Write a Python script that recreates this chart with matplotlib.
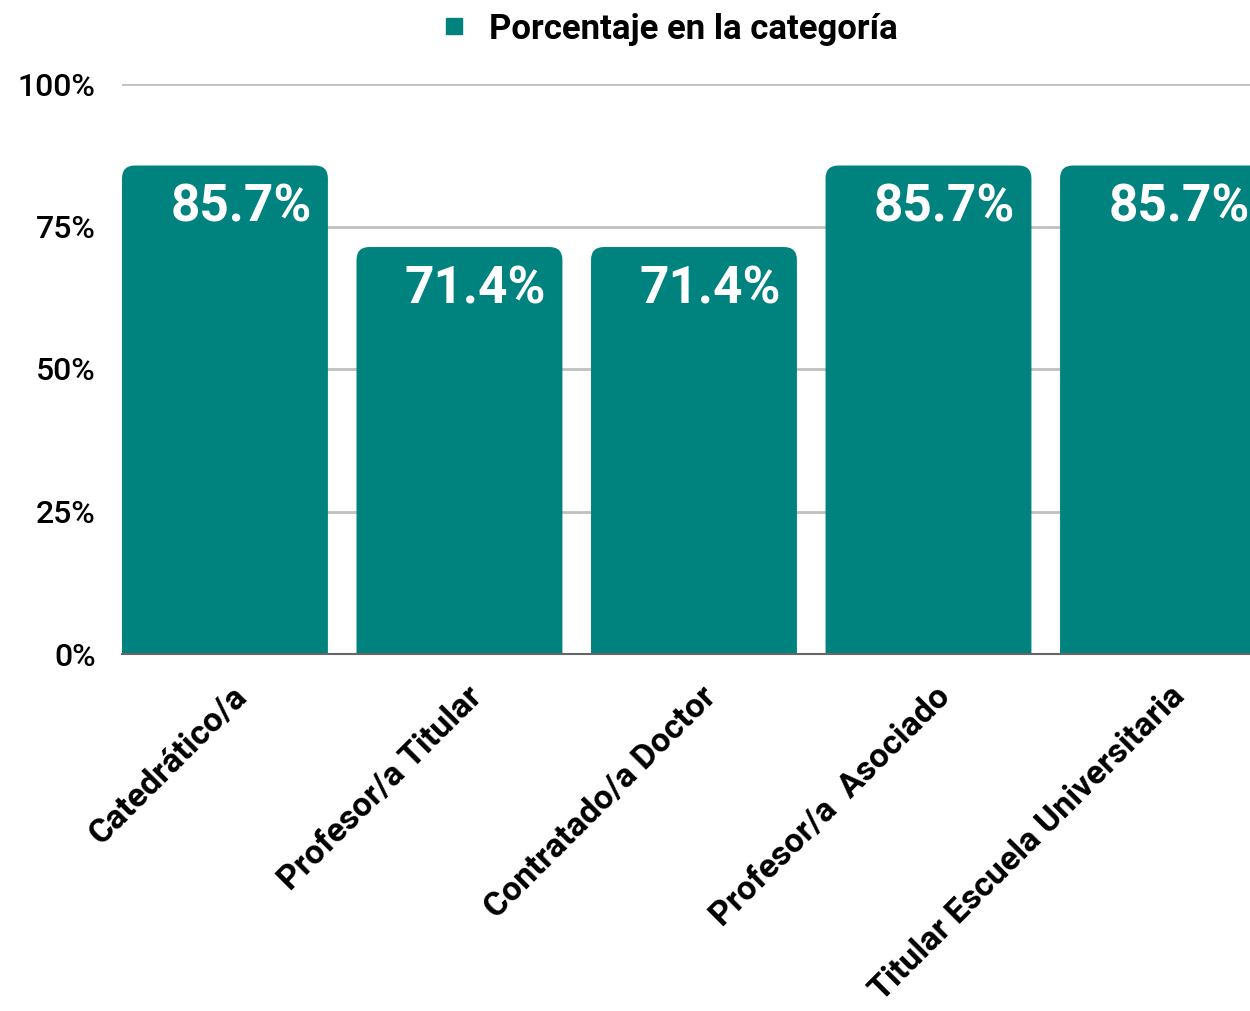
import numpy as np
import matplotlib
matplotlib.use("Agg")
import matplotlib.pyplot as plt
from matplotlib.patches import PathPatch
from matplotlib.path import Path
from matplotlib.lines import Line2D
import matplotlib.transforms as mtransforms

plt.rcParams['font.family'] = ['Roboto', 'DejaVu Sans']

# datos
categorias = ['Catedrático/a', 'Profesor/a Titular', 'Contratado/a Doctor',
              'Profesor/a  Asociado', 'Titular Escuela Universitaria']
porcentajes = [85.7, 71.4, 71.4, 85.7, 85.7]
etiquetas_y = ['0%', '25%', '50%', '75%', '100%']
serie = 'Porcentaje en la categoría'
color = '#00827f'

fig = plt.figure(figsize=(12.5, 10.11), dpi=100)
ax = fig.add_axes([122 / 1250, (1011 - 654) / 1011, 1 - 122 / 1250, 570 / 1011])

x = np.arange(len(categorias))
ancho = 0.878
barras = ax.bar(x, porcentajes, width=ancho, color=color, zorder=2)
ax.set_xlim(-0.439, 4.371)
ax.set_ylim(0, 100)


def barra_redondeada(x0, w, h, rx, ry):
    # solo las esquinas de arriba van redondeadas
    verts = [(x0, 0), (x0, h - ry), (x0, h), (x0 + rx, h),
             (x0 + w - rx, h), (x0 + w, h), (x0 + w, h - ry),
             (x0 + w, 0), (x0, 0)]
    codes = [Path.MOVETO, Path.LINETO, Path.CURVE3, Path.CURVE3,
             Path.LINETO, Path.CURVE3, Path.CURVE3,
             Path.LINETO, Path.CLOSEPOLY]
    return Path(verts, codes)


fig.canvas.draw()
px_x = ax.transData.transform((1, 0))[0] - ax.transData.transform((0, 0))[0]
px_y = ax.transData.transform((0, 1))[1] - ax.transData.transform((0, 0))[1]
rx, ry = 13 / px_x, 13 / px_y
for b in barras:
    b.set_visible(False)
    ax.add_patch(PathPatch(barra_redondeada(b.get_x(), b.get_width(), b.get_height(), rx, ry),
                           fc=color, ec='none', zorder=2))

# etiquetas de datos
for xi, v in zip(x, porcentajes):
    off = mtransforms.offset_copy(ax.transData, fig=fig, x=-16, y=-17, units='dots')
    ax.text(xi + ancho / 2, v, f'{v}%', transform=off, ha='right', va='top',
            color='white', fontsize=37, fontweight='bold', zorder=3, clip_on=False)

ax.set_yticks([0, 25, 50, 75, 100])
ax.set_yticklabels(etiquetas_y, fontsize=23, fontweight='medium')
ax.yaxis.grid(True, color='#c0c0c0', linewidth=2, zorder=0)
ax.tick_params(axis='y', length=0, pad=19)
ax.tick_params(axis='x', length=0, pad=19)
ax.set_xticks(x)
ax.set_xticklabels(categorias, rotation=45, ha='right', rotation_mode='anchor',
                   fontsize=24.5, fontweight='semibold')
desplaz = mtransforms.ScaledTranslation(6 / 100, 0, fig.dpi_scale_trans)
for t in ax.get_xticklabels():
    t.set_transform(t.get_transform() + desplaz)

for s in ['top', 'right', 'left']:
    ax.spines[s].set_visible(False)
ax.spines['bottom'].set_color('#666666')
ax.spines['bottom'].set_linewidth(1.5)
ax.spines['bottom'].set_zorder(3)

# leyenda
fig.legend(handles=[Line2D([], [], marker='s', color=color, linestyle='none', markersize=12)],
           labels=[serie], loc='center', bbox_to_anchor=(667 / 1250, 1 - 29 / 1011),
           frameon=False, handlelength=1.0, handletextpad=0.5,
           prop={'size': 25, 'weight': 'semibold'})

fig.savefig('out.png', dpi=100)
